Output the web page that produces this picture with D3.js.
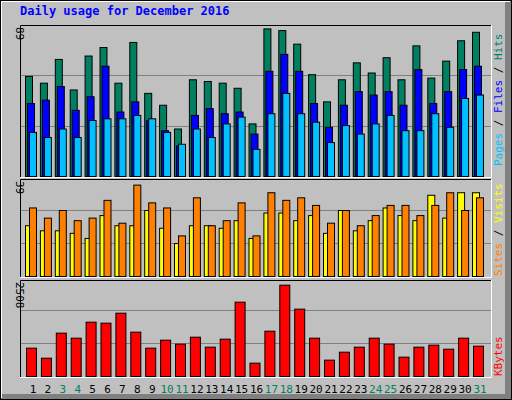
<!DOCTYPE html><html><head><meta charset="utf-8">
<script src="https://cdn.jsdelivr.net/npm/d3@7"></script>
<style>body{margin:0;background:#fff}svg{display:block}</style></head><body>
<svg id="c" width="512" height="400"></svg>
<script>
const days=d3.range(1,32);
const weekend=[3,4,10,11,17,18,24,25,31];
const hits=[59,55,69,51,71,76,55,79,49,42,28,57,56,55,52,31,87,86,78,60,44,57,67,61,70,57,77,58,68,80,85];
const files=[43,45,53,39,47,65,38,44,33,27,18,36,40,37,38,25,62,72,62,43,29,42,50,48,50,42,63,43,50,63,65];
const pages=[26,23,28,23,33,34,34,36,34,26,19,28,23,31,35,16,37,49,37,32,20,30,25,31,36,27,27,37,29,46,48];
const sites=[20,18,18,17,15,24,20,20,26,19,13,20,20,19,22,15,25,25,22,24,17,26,18,22,27,24,22,32,23,33,33];
const visits=[27,23,26,22,23,30,21,36,29,27,16,31,20,22,29,16,33,30,31,28,21,26,20,24,28,28,24,28,33,26,31];
const kbytes=[718,464,1098,971,1376,1351,1604,1123,718,920,819,996,743,946,1883,338,1148,2314,1706,971,414,616,743,971,819,490,743,794,692,971,768];
const maxTop=89,maxMid=39,maxBot=2508;

const svg=d3.select("#c");
const F="'DejaVu Sans Mono',monospace";
svg.append("rect").attr("width",512).attr("height",400).attr("fill","#c0c0c0");
svg.append("rect").attr("x",0.5).attr("y",0.5).attr("width",511).attr("height",399).attr("fill","none").attr("stroke","#000");
svg.append("rect").attr("x",505).attr("y",1).attr("width",6).attr("height",398).attr("fill","#808080");
svg.append("rect").attr("x",1).attr("y",394).attr("width",510).attr("height",5).attr("fill","#808080");
svg.append("path").attr("d","M1.5,398V1.5H510").attr("stroke","#fff").attr("fill","none");

svg.append("text").attr("x",20).attr("y",15).attr("font-family",F).attr("font-weight","bold").attr("font-size",12).attr("fill","#0000ff").text("Daily usage for December 2016");

const x=d3.scalePoint().domain(days).range([33,480]);
const L=20,R=491;
function panel(top,bottom,max,topVal){
  svg.append("rect").attr("x",L).attr("y",top).attr("width",R-L).attr("height",bottom-top).attr("fill","#c0c0c0");
  const y=d3.scaleLinear().domain([0,max]).range([bottom-1,topVal]);
  [max/3,2*max/3].forEach(v=>svg.append("line").attr("x1",L).attr("x2",R).attr("y1",Math.round(y(v))+.5).attr("y2",Math.round(y(v))+.5).attr("stroke","#808080"));
  svg.append("path").attr("d",`M${L+.5},${bottom}V${top+.5}H${R}`).attr("stroke","#000").attr("fill","none");
  svg.append("path").attr("d",`M${L},${bottom+.5}H${R+.5}V${top}`).attr("stroke","#fff").attr("fill","none");
  svg.append("text").attr("transform",`translate(${L-4},${top+2}) rotate(90)`).attr("font-family",F).attr("font-size",11).attr("fill","#000").text(String(max));
  return y;
}
function bars(y,data,off,w,col){
  svg.append("g").selectAll("rect").data(data).join("rect")
   .attr("x",(d,i)=>x(days[i])+off+.5).attr("width",w).attr("y",d=>y(d)+.5).attr("height",d=>y(0)-y(d))
   .attr("fill",col).attr("stroke","#000").attr("stroke-width",1);
}
const y1=panel(25,177,maxTop,25);
bars(y1,hits,-8,7,"#008060");
bars(y1,files,-6,7,"#0000ff");
bars(y1,pages,-4,7,"#00c0ff");
const y2=panel(179,277,maxMid,177);
bars(y2,sites,-8,7,"#ffff00");
bars(y2,visits,-4,7,"#ff8000");
const y3=panel(280,377,maxBot,277);
bars(y3,kbytes,-7,10,"#ff0000");

svg.append("g").selectAll("text").data(days).join("text").attr("x",d=>x(d)).attr("y",393).attr("text-anchor","middle")
 .attr("font-family",F).attr("font-size",11).attr("fill",d=>weekend.includes(d)?"#008060":"#000").text(d=>d);

function side(yb,parts){
  const t=svg.append("text").attr("transform",`translate(${502},${yb}) rotate(-90)`).attr("font-family",F).attr("font-size",11);
  parts.forEach(p=>t.append("tspan").attr("fill",p[1]).text(p[0]));
}
side(166,[["Pages","#00c0ff"],[" / ","#000"],["Files","#0000ff"],[" / ","#000"],["Hits","#008060"]]);
side(276,[["Sites","#ff8000"],[" / ","#000"],["Visits","#ffff00"]]);
side(376,[["KBytes","#ff0000"]]);
</script></body></html>
